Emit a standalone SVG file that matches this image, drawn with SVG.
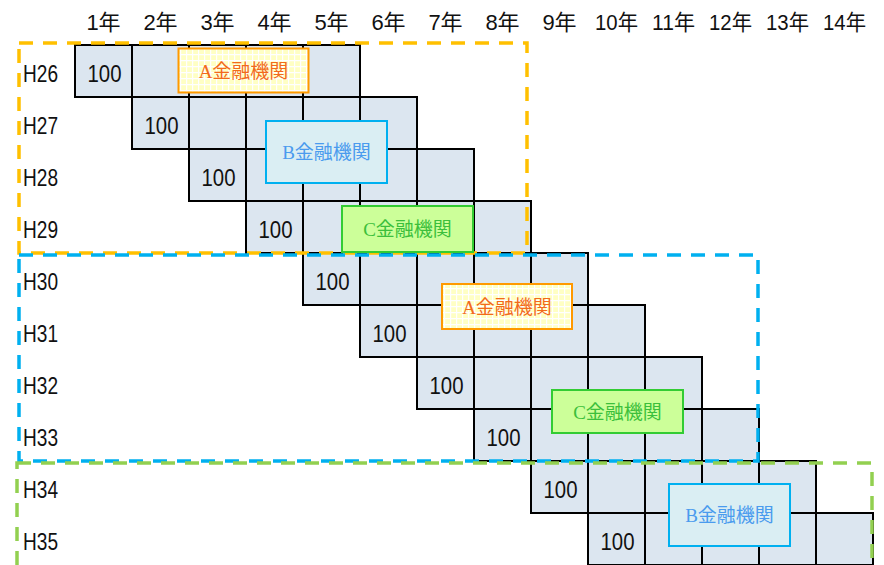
<svg xmlns="http://www.w3.org/2000/svg" width="884" height="565" viewBox="0 0 884 565">
<defs>
<pattern id="grid" x="0" y="0" width="6" height="6" patternUnits="userSpaceOnUse">
<rect width="6" height="6" fill="#ffffc4"/>
<path d="M0 0.5H6M0.5 0V6" stroke="#ffffff" stroke-width="1.4"/>
</pattern>
<style>
.hd{font-family:"Liberation Sans","Noto Sans CJK JP",sans-serif;font-size:22px;fill:#111;text-anchor:middle}
.rl{font-family:"Liberation Sans",sans-serif;font-size:24px;fill:#111}
.v{font-family:"Liberation Sans",sans-serif;font-size:24px;fill:#111;text-anchor:middle}
.cell{fill:#dce6f0;stroke:#000;stroke-width:2}
.bk{font-family:"Liberation Serif","Noto Sans CJK JP",serif;font-size:19px;text-anchor:middle}
.a rect{fill:url(#grid);stroke:#ff9900;stroke-width:2}
.a text{fill:#f26a1b}
.b rect{fill:#daeef3;stroke:#00b0f0;stroke-width:2}
.b text{fill:#4a9bee}
.c rect{fill:#ccff99;stroke:#33cc33;stroke-width:2}
.c text{fill:#3cbf3c}
.grp{fill:none;stroke-width:3.5;stroke-dasharray:14 10}
</style>
</defs>
<rect width="884" height="565" fill="#ffffff"/>
<g id="header">
<text class="hd" x="103.5" y="30">1年</text>
<text class="hd" x="160.5" y="30">2年</text>
<text class="hd" x="217.5" y="30">3年</text>
<text class="hd" x="274.5" y="30">4年</text>
<text class="hd" x="331.5" y="30">5年</text>
<text class="hd" x="388.5" y="30">6年</text>
<text class="hd" x="445.5" y="30">7年</text>
<text class="hd" x="502.5" y="30">8年</text>
<text class="hd" x="559.5" y="30">9年</text>
<text class="hd" x="616.5" y="30" textLength="43" lengthAdjust="spacingAndGlyphs">10年</text>
<text class="hd" x="673.5" y="30" textLength="43" lengthAdjust="spacingAndGlyphs">11年</text>
<text class="hd" x="730.5" y="30" textLength="43" lengthAdjust="spacingAndGlyphs">12年</text>
<text class="hd" x="787.5" y="30" textLength="43" lengthAdjust="spacingAndGlyphs">13年</text>
<text class="hd" x="844.5" y="30" textLength="43" lengthAdjust="spacingAndGlyphs">14年</text>
</g>
<g id="row-labels">
<text class="rl" x="23" y="81.5" textLength="35" lengthAdjust="spacingAndGlyphs">H26</text>
<text class="rl" x="23" y="133.5" textLength="35" lengthAdjust="spacingAndGlyphs">H27</text>
<text class="rl" x="23" y="185.5" textLength="35" lengthAdjust="spacingAndGlyphs">H28</text>
<text class="rl" x="23" y="237.5" textLength="35" lengthAdjust="spacingAndGlyphs">H29</text>
<text class="rl" x="23" y="289.5" textLength="35" lengthAdjust="spacingAndGlyphs">H30</text>
<text class="rl" x="23" y="341.5" textLength="35" lengthAdjust="spacingAndGlyphs">H31</text>
<text class="rl" x="23" y="393.5" textLength="35" lengthAdjust="spacingAndGlyphs">H32</text>
<text class="rl" x="23" y="445.5" textLength="35" lengthAdjust="spacingAndGlyphs">H33</text>
<text class="rl" x="23" y="497.5" textLength="35" lengthAdjust="spacingAndGlyphs">H34</text>
<text class="rl" x="23" y="549.5" textLength="35" lengthAdjust="spacingAndGlyphs">H35</text>
</g>
<g id="row-H26"><rect class="cell" x="75" y="45" width="57" height="52"/><rect class="cell" x="132" y="45" width="57" height="52"/><rect class="cell" x="189" y="45" width="57" height="52"/><rect class="cell" x="246" y="45" width="57" height="52"/><rect class="cell" x="303" y="45" width="57" height="52"/><text class="v" x="104.5" y="81.5" textLength="34" lengthAdjust="spacingAndGlyphs">100</text></g>
<g id="row-H27"><rect class="cell" x="132" y="97" width="57" height="52"/><rect class="cell" x="189" y="97" width="57" height="52"/><rect class="cell" x="246" y="97" width="57" height="52"/><rect class="cell" x="303" y="97" width="57" height="52"/><rect class="cell" x="360" y="97" width="57" height="52"/><text class="v" x="161.5" y="133.5" textLength="34" lengthAdjust="spacingAndGlyphs">100</text></g>
<g id="row-H28"><rect class="cell" x="189" y="149" width="57" height="52"/><rect class="cell" x="246" y="149" width="57" height="52"/><rect class="cell" x="303" y="149" width="57" height="52"/><rect class="cell" x="360" y="149" width="57" height="52"/><rect class="cell" x="417" y="149" width="57" height="52"/><text class="v" x="218.5" y="185.5" textLength="34" lengthAdjust="spacingAndGlyphs">100</text></g>
<g id="row-H29"><rect class="cell" x="246" y="201" width="57" height="52"/><rect class="cell" x="303" y="201" width="57" height="52"/><rect class="cell" x="360" y="201" width="57" height="52"/><rect class="cell" x="417" y="201" width="57" height="52"/><rect class="cell" x="474" y="201" width="57" height="52"/><text class="v" x="275.5" y="237.5" textLength="34" lengthAdjust="spacingAndGlyphs">100</text></g>
<g id="row-H30"><rect class="cell" x="303" y="253" width="57" height="52"/><rect class="cell" x="360" y="253" width="57" height="52"/><rect class="cell" x="417" y="253" width="57" height="52"/><rect class="cell" x="474" y="253" width="57" height="52"/><rect class="cell" x="531" y="253" width="57" height="52"/><text class="v" x="332.5" y="289.5" textLength="34" lengthAdjust="spacingAndGlyphs">100</text></g>
<g id="row-H31"><rect class="cell" x="360" y="305" width="57" height="52"/><rect class="cell" x="417" y="305" width="57" height="52"/><rect class="cell" x="474" y="305" width="57" height="52"/><rect class="cell" x="531" y="305" width="57" height="52"/><rect class="cell" x="588" y="305" width="57" height="52"/><text class="v" x="389.5" y="341.5" textLength="34" lengthAdjust="spacingAndGlyphs">100</text></g>
<g id="row-H32"><rect class="cell" x="417" y="357" width="57" height="52"/><rect class="cell" x="474" y="357" width="57" height="52"/><rect class="cell" x="531" y="357" width="57" height="52"/><rect class="cell" x="588" y="357" width="57" height="52"/><rect class="cell" x="645" y="357" width="57" height="52"/><text class="v" x="446.5" y="393.5" textLength="34" lengthAdjust="spacingAndGlyphs">100</text></g>
<g id="row-H33"><rect class="cell" x="474" y="409" width="57" height="52"/><rect class="cell" x="531" y="409" width="57" height="52"/><rect class="cell" x="588" y="409" width="57" height="52"/><rect class="cell" x="645" y="409" width="57" height="52"/><rect class="cell" x="702" y="409" width="57" height="52"/><text class="v" x="503.5" y="445.5" textLength="34" lengthAdjust="spacingAndGlyphs">100</text></g>
<g id="row-H34"><rect class="cell" x="531" y="461" width="57" height="52"/><rect class="cell" x="588" y="461" width="57" height="52"/><rect class="cell" x="645" y="461" width="57" height="52"/><rect class="cell" x="702" y="461" width="57" height="52"/><rect class="cell" x="759" y="461" width="57" height="52"/><text class="v" x="560.5" y="497.5" textLength="34" lengthAdjust="spacingAndGlyphs">100</text></g>
<g id="row-H35"><rect class="cell" x="588" y="513" width="57" height="52"/><rect class="cell" x="645" y="513" width="57" height="52"/><rect class="cell" x="702" y="513" width="57" height="52"/><rect class="cell" x="759" y="513" width="57" height="52"/><rect class="cell" x="816" y="513" width="57" height="52"/><text class="v" x="617.5" y="549.5" textLength="34" lengthAdjust="spacingAndGlyphs">100</text></g>
<g id="group-1"><rect class="grp" x="19" y="43" width="508" height="210" stroke="#ffc000"/></g>
<g id="group-2"><rect class="grp" x="19" y="255" width="739" height="206" stroke="#00b0f0"/></g>
<g id="group-3"><rect class="grp" x="17" y="463" width="855" height="120" stroke="#92d050"/></g>
<g id="bank-A1" class="a"><rect x="178.5" y="48.5" width="130" height="44"/><text class="bk" x="243.5" y="77.5">A金融機関</text></g>
<g id="bank-B1" class="b"><rect x="266" y="121" width="121" height="62"/><text class="bk" x="326.5" y="159">B金融機関</text></g>
<g id="bank-C1" class="c"><rect x="342" y="206" width="131" height="46"/><text class="bk" x="407.5" y="236">C金融機関</text></g>
<g id="bank-A2" class="a"><rect x="442" y="284" width="130" height="45"/><text class="bk" x="507" y="313.5">A金融機関</text></g>
<g id="bank-C2" class="c"><rect x="552" y="390" width="131" height="43"/><text class="bk" x="617.5" y="418.5">C金融機関</text></g>
<g id="bank-B2" class="b"><rect x="669" y="484" width="121" height="62"/><text class="bk" x="729.5" y="522">B金融機関</text></g>
</svg>
